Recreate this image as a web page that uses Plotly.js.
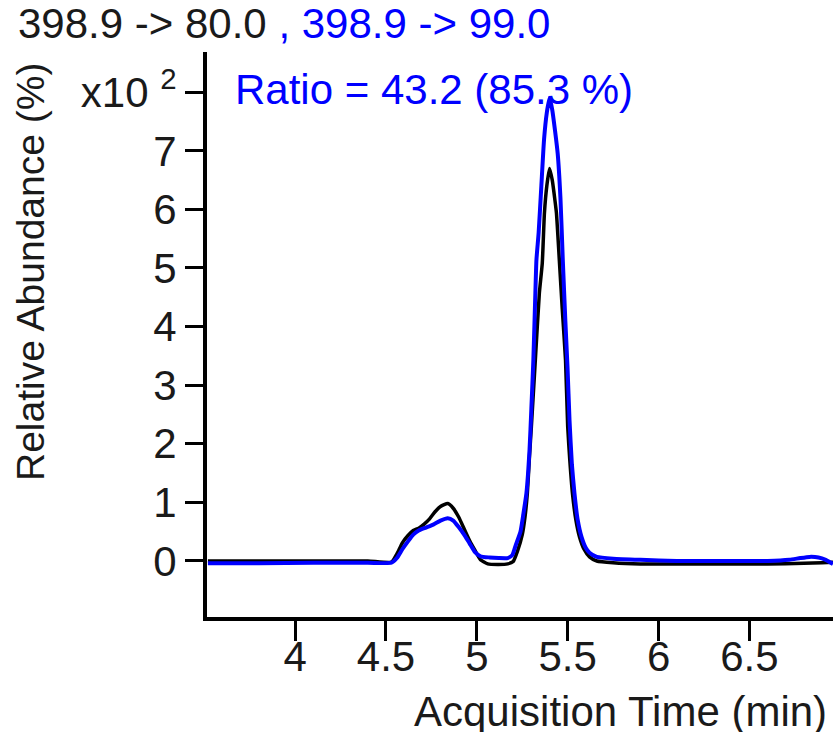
<!DOCTYPE html>
<html>
<head>
<meta charset="utf-8">
<script src="https://cdn.plot.ly/plotly-3.0.1.min.js"></script>
<style>html,body{margin:0;padding:0;background:#fff;}#chart{width:833px;height:732px;}</style>
</head>
<body>
<div id="chart"></div>
<script>
// Transition 398.9 -> 80.0 (black)
const blackTime = [3.52,3.8,4.1,4.4,4.53,4.56,4.59,4.62,4.65,4.68,4.71,4.74,4.77,4.80,4.84,4.87,4.90,4.93,4.96,4.99,5.02,5.06,5.12,5.17,5.20,5.225,5.25,5.265,5.278,5.29,5.30,5.322,5.344,5.36,5.372,5.385,5.40,5.415,5.43,5.438,5.455,5.47,5.488,5.50,5.512,5.526,5.545,5.565,5.59,5.62,5.66,5.75,5.9,6.2,6.6,6.8,6.9,6.96];
const blackAbund = [0.0,0.0,0.0,0.0,-0.02,0.12,0.31,0.43,0.52,0.56,0.63,0.72,0.84,0.93,0.98,0.9,0.75,0.55,0.35,0.18,0.02,-0.05,-0.06,-0.05,-0.01,0.18,0.45,0.75,1.16,1.8,2.29,3.43,4.57,5.08,5.94,6.4,6.7,6.5,6.15,5.94,5.08,4.3,3.43,2.29,1.7,1.16,0.7,0.41,0.2,0.07,0.0,-0.03,-0.05,-0.05,-0.05,-0.04,-0.03,-0.02];
// Transition 398.9 -> 99.0 (blue)
const blueTime = [3.52,3.8,4.1,4.4,4.53,4.56,4.59,4.62,4.65,4.68,4.72,4.76,4.80,4.84,4.87,4.90,4.93,4.96,4.99,5.02,5.07,5.12,5.17,5.195,5.215,5.24,5.256,5.273,5.29,5.30,5.311,5.322,5.328,5.34,5.355,5.37,5.385,5.40,5.415,5.43,5.445,5.46,5.473,5.487,5.499,5.51,5.523,5.537,5.555,5.576,5.60,5.62,5.66,5.75,5.9,6.1,6.4,6.6,6.72,6.78,6.83,6.88,6.92,6.96];
const blueAbund = [-0.04,-0.04,-0.03,-0.03,-0.03,0.05,0.2,0.33,0.45,0.52,0.57,0.62,0.69,0.73,0.69,0.58,0.45,0.3,0.15,0.08,0.06,0.05,0.05,0.1,0.28,0.5,0.8,1.16,1.9,2.6,3.43,4.57,5.14,5.6,6.4,7.2,7.65,7.9,7.7,7.35,6.95,6.2,5.14,4.1,3.3,2.4,1.65,1.16,0.7,0.41,0.22,0.14,0.07,0.04,0.02,0.0,0.0,0.0,0.02,0.05,0.07,0.06,0.02,-0.05];

const xTicks = [4, 4.5, 5, 5.5, 6, 6.5];
const xTickText = ['4', '4.5', '5', '5.5', '6', '6.5'];
const yTicks = [0, 1, 2, 3, 4, 5, 6, 7, 8];
const yTickText = ['0', '1', '2', '3', '4', '5', '6', '7', 'x10 <sup>2</sup>'];

const titleBlack = '398.9 -> 80.0';
const titleBlue = ', 398.9 -> 99.0';
const ratioText = 'Ratio = 43.2 (85.3 %)';
const xTitle = 'Acquisition Time (min)';
const yTitle = 'Relative Abundance (%)';

const W = 833, H = 732, L = 207, R = 0, T = 52, B = 115;
const px = v => (v - L) / (W - L - R);
const py = v => (H - B - v) / (H - T - B);

const FONT = 'Liberation Sans, Arial, sans-serif';

const traces = [
  {x: blackTime, y: blackAbund, mode: 'lines', line: {color: '#000000', width: 3.5, shape: 'spline', smoothing: 0.5}, hoverinfo: 'skip'},
  {x: blueTime, y: blueAbund, mode: 'lines', line: {color: '#0000ff', width: 4, shape: 'spline', smoothing: 0.5}, hoverinfo: 'skip'}
];

const layout = {
  width: W, height: H,
  margin: {l: L, r: R, t: T, b: B, pad: 0},
  paper_bgcolor: '#ffffff', plot_bgcolor: '#ffffff',
  showlegend: false,
  font: {family: FONT, size: 42, color: '#1a1a1a'},
  xaxis: {
    range: [3.515, 6.96], showgrid: false, zeroline: false,
    showline: true, linecolor: '#000', linewidth: 4,
    ticks: 'outside', ticklen: 20, tickwidth: 3, tickcolor: '#000',
    tickvals: xTicks, ticktext: xTickText, ticklabelstandoff: -20,
    tickfont: {family: FONT, size: 42, color: '#1a1a1a'}
  },
  yaxis: {
    range: [-0.956, 8.686], showgrid: false, zeroline: false,
    showline: true, linecolor: '#000', linewidth: 4,
    ticks: 'outside', ticklen: 18, tickwidth: 3, tickcolor: '#000',
    tickvals: yTicks, ticktext: yTickText,
    tickfont: {family: FONT, size: 42, color: '#1a1a1a'}
  },
  annotations: [
    {xref: 'paper', yref: 'paper', x: px(16), y: py(23), xanchor: 'left', yanchor: 'middle', showarrow: false,
     text: titleBlack + ' <span style="color:#0000ff">' + titleBlue + '</span>', font: {family: FONT, size: 42, color: '#1a1a1a'}},
    {xref: 'paper', yref: 'paper', x: px(233), y: py(90), xanchor: 'left', yanchor: 'middle', showarrow: false,
     text: ratioText, font: {family: FONT, size: 42, color: '#0000ff'}},
    {xref: 'paper', yref: 'paper', x: px(829), y: py(711), xanchor: 'right', yanchor: 'middle', showarrow: false,
     text: xTitle, font: {family: FONT, size: 42, color: '#1a1a1a'}},
    {xref: 'paper', yref: 'paper', x: px(30), y: py(272), xanchor: 'center', yanchor: 'middle', showarrow: false, textangle: -90,
     text: yTitle, font: {family: FONT, size: 39, color: '#1a1a1a'}}
  ]
};

Plotly.newPlot('chart', traces, layout, {staticPlot: true, displayModeBar: false});
</script>
</body>
</html>
